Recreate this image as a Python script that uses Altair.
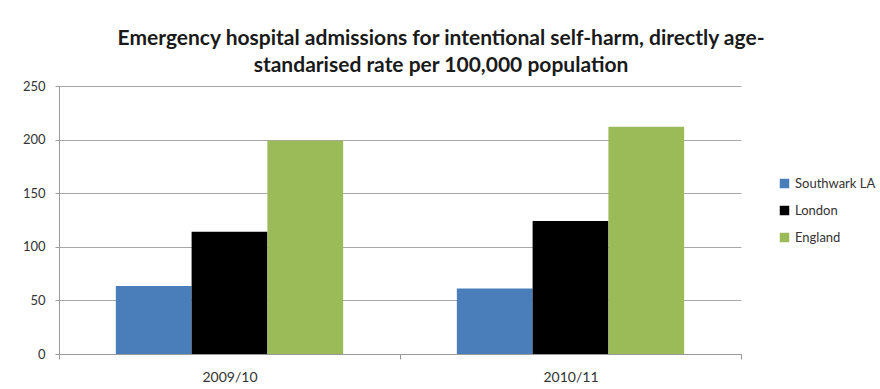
import altair as alt
import pandas as pd

years = ["2009/10", "2010/11"]
areas = ["Southwark LA", "London", "England"]
southwark = [63.5, 61]
london = [114, 124]
england = [199, 212]
colors = ["#4a7ebb", "#000000", "#9bbb59"]

rows = []
for i, y in enumerate(years):
    for a, vals in zip(areas, [southwark, london, england]):
        rows.append({"year": y, "area": a, "rate": vals[i]})
df = pd.DataFrame(rows)

FONT = "Lato"

chart = alt.Chart(df).mark_bar().encode(
    x=alt.X("year:N", sort=years, title=None,
            scale=alt.Scale(paddingInner=0, paddingOuter=0),
            axis=alt.Axis(labelAngle=0, tickBand="extent", tickSize=5,
                          labelPadding=11, domainColor="#9a9a9a",
                          tickColor="#9a9a9a", labelFontSize=14,
                          labelColor="#333", labelFont=FONT, grid=False)),
    xOffset=alt.XOffset("area:N", sort=areas,
                        scale=alt.Scale(paddingInner=0, paddingOuter=0.75)),
    y=alt.Y("rate:Q", title=None,
            scale=alt.Scale(domain=[0, 250], nice=False),
            axis=alt.Axis(values=[0, 50, 100, 150, 200, 250], tickSize=4,
                          labelPadding=10, domainColor="#9a9a9a",
                          tickColor="#9a9a9a", gridColor="#a8a8a8",
                          labelFontSize=13, labelColor="#333",
                          labelFont=FONT, grid=True)),
    color=alt.Color("area:N", sort=areas,
                    scale=alt.Scale(domain=areas, range=colors),
                    legend=alt.Legend(title=None, orient="none",
                                      legendX=719, legendY=91,
                                      symbolType="square", symbolSize=90,
                                      symbolStrokeWidth=0,
                                      labelFontSize=13, labelFont=FONT,
                                      labelColor="#333", rowPadding=13,
                                      labelLimit=300)),
).properties(
    width=682,
    height=268,
    title=alt.TitleParams(
        ["Emergency hospital admissions for intentional self-harm, directly age-",
         "standarised rate per 100,000 population"],
        font=FONT, fontSize=21, fontWeight="bold", color="#1a1a1a",
        lineHeight=27, anchor="middle", dx=41, offset=4),
    autosize=alt.AutoSizeParams(type="none"),
    padding={"left": 59, "top": 86, "right": 139, "bottom": 35},
    background="white",
).configure_view(stroke=None)

chart.save("out.html", embed_options={"renderer": "svg", "actions": False})
